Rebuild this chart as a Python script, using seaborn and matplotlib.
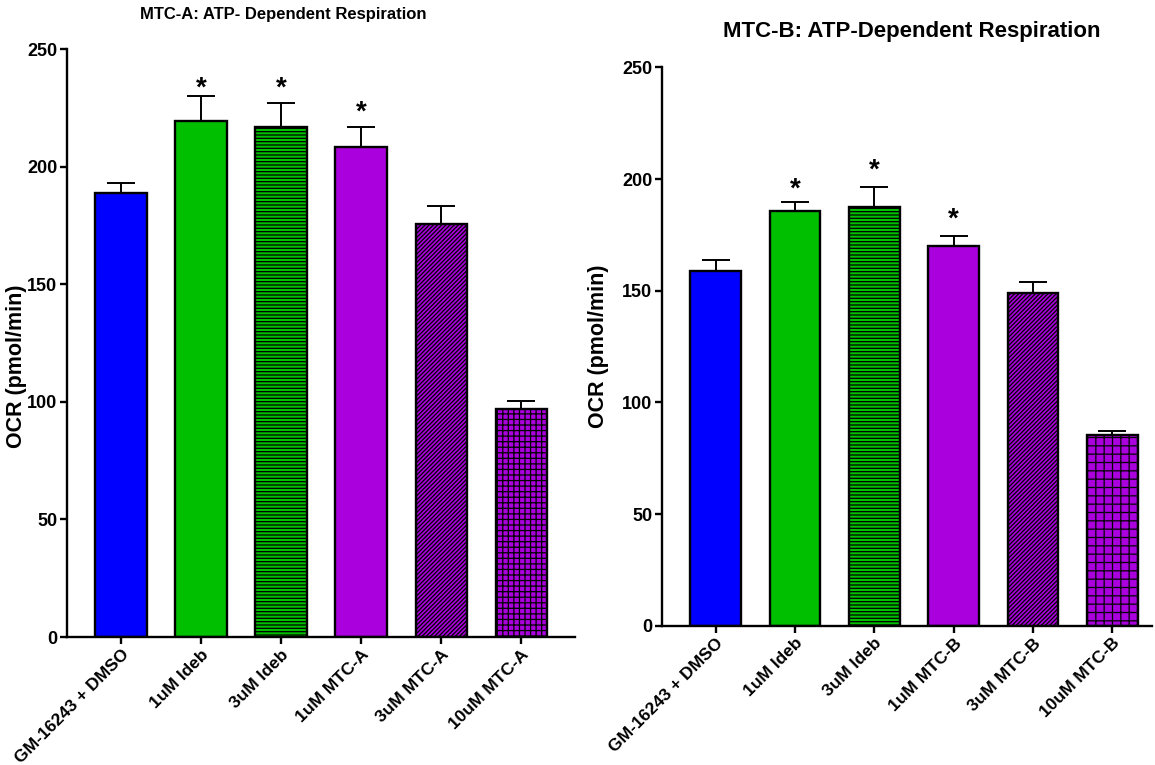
import numpy as np
import matplotlib
matplotlib.use("Agg")
import matplotlib.pyplot as plt
import matplotlib.font_manager as fm
import seaborn as sns

# ================================================
#   DATOS
# ================================================
grupos_a = ["GM-16243 + DMSO", "1uM Ideb", "3uM Ideb", "1uM MTC-A", "3uM MTC-A", "10uM MTC-A"]
ocr_a = [188.6, 219.4, 216.7, 208.5, 175.5, 96.8]
sem_a = [4.3, 10.8, 10.5, 8.2, 7.7, 3.7]
estrella_a = [None, 230, 230, 220, None, None]

grupos_b = ["GM-16243 + DMSO", "1uM Ideb", "3uM Ideb", "1uM MTC-B", "3uM MTC-B", "10uM MTC-B"]
ocr_b = [158.8, 185.5, 187.3, 169.9, 148.8, 85.4]
sem_b = [4.9, 4.2, 9.3, 4.6, 5.2, 2.0]
estrella_b = [None, 192, 200.5, 178.5, None, None]

colores = ["#0000FF", "#00BF00", "#00BF00", "#AA00DD", "#AA00DD", "#AA00DD"]
color_trama = [None, None, "#005A00", None, "#1A0030", "#000000"]

# ================================================
#   ESTILO
# ================================================
sns.set_style("ticks")
nombres = {f.name for f in fm.fontManager.ttflist}
angosta = "Liberation Sans Narrow" if "Liberation Sans Narrow" in nombres else "Liberation Sans"
plt.rcParams["font.family"] = ["Liberation Sans", "DejaVu Sans"]
plt.rcParams["font.weight"] = "bold"
plt.rcParams["hatch.linewidth"] = 0.9
for k in ["text.color", "axes.labelcolor", "xtick.color", "ytick.color", "axes.edgecolor"]:
    plt.rcParams[k] = "black"

fig = plt.figure(figsize=(11.55, 7.65), dpi=100)
ax1 = fig.add_axes([0.058, 0.1673, 0.44, 0.7686])
ax2 = fig.add_axes([0.5732, 0.182, 0.4242, 0.730])


def panel(ax, grupos, ocr, sem, estrellas, xmax, tramas_usar, pos_label):
    sns.barplot(x=grupos, y=ocr, hue=grupos, palette=colores, legend=False,
                width=0.64, edgecolor="black", linewidth=1.7, saturation=1, ax=ax)
    for i, p in enumerate(ax.patches):
        if tramas_usar[i]:
            p.set_hatch(tramas_usar[i])
            if hasattr(p, "set_hatchcolor"):
                p.set_hatchcolor(color_trama[i])
    x = np.arange(len(grupos))
    ax.errorbar(x, ocr, yerr=[np.zeros(len(sem)), sem], fmt="none", ecolor="black",
                elinewidth=1.4, capsize=10, capthick=1.4, zorder=3)
    for i, e in enumerate(estrellas):
        if e is not None:
            ax.text(i, e, "*", ha="center", va="baseline", fontsize=20, fontweight="bold")
    ax.set_ylim(0, 250)
    ax.set_xlim(-0.675, xmax)
    ax.set_yticks([0, 50, 100, 150, 200, 250])
    ax.set_ylabel("OCR (pmol/min)", fontsize=15.5, fontweight="bold")
    ax.yaxis.set_label_coords(*pos_label)
    ax.set_xlabel("")
    for s in ["top", "right"]:
        ax.spines[s].set_visible(False)
    for s in ["left", "bottom"]:
        ax.spines[s].set_linewidth(1.7)
    ax.tick_params(axis="both", width=1.7, length=5, direction="out", pad=2)
    ax.tick_params(axis="y", labelsize=13)
    ax.tick_params(axis="x", labelsize=12.5)
    plt.setp(ax.get_xticklabels(), rotation=45, ha="right", rotation_mode="anchor",
             fontweight="bold")
    plt.setp(ax.get_yticklabels(), fontweight="bold")


panel(ax1, grupos_a, ocr_a, sem_a, estrella_a, 5.675,
      [None, None, "-----", None, "////////", "+++"], (-0.079, 0.46))
panel(ax2, grupos_b, ocr_b, sem_b, estrella_b, 5.5,
      [None, None, "-----", None, "////////", "++"], (-0.108, 0.5))

fig.text(283 / 1155, 1 - 14 / 765, "MTC-A: ATP- Dependent Respiration", ha="center", va="center",
         fontsize=12, fontweight="bold", family=[angosta, "DejaVu Sans"])
fig.text(912 / 1155, 1 - 32 / 765, "MTC-B: ATP-Dependent Respiration", ha="center", va="center",
         fontsize=16, fontweight="bold", family=[angosta, "DejaVu Sans"])

fig.savefig("out.png", dpi=100)
